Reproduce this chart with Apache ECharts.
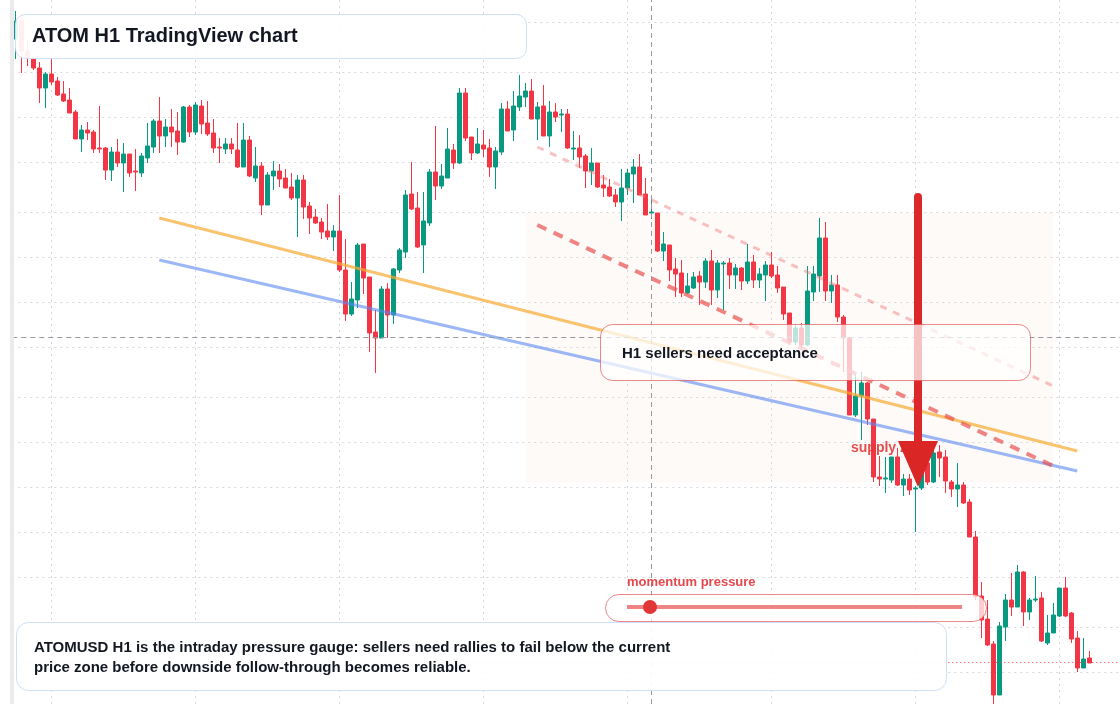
<!DOCTYPE html>
<html><head><meta charset="utf-8">
<script src="https://cdn.jsdelivr.net/npm/echarts@6/dist/echarts.min.js"></script>
<style>html,body{margin:0;padding:0;background:#fff}#c{width:1120px;height:704px}</style>
</head><body><div id="c"></div>
<script>
// ATOMUSD H1 candles
const openP = [4.597,4.635,4.573,4.559,4.539,4.499,4.527,4.513,4.487,4.475,4.451,4.397,4.415,4.411,4.379,4.379,4.335,4.371,4.349,4.367,
4.333,4.329,4.359,4.381,4.433,4.403,4.421,4.413,4.391,4.461,4.411,4.463,4.429,4.409,4.381,4.377,4.387,4.375,4.341,4.395,
4.319,4.343,4.265,4.323,4.333,4.319,4.301,4.279,4.315,4.263,4.241,4.231,4.213,4.201,4.213,4.135,4.047,4.075,4.187,4.121,
4.011,3.999,4.097,4.045,4.135,4.171,4.287,4.259,4.185,4.229,4.331,4.303,4.319,4.375,4.349,4.489,4.401,4.369,4.385,4.379,
4.341,4.371,4.457,4.415,4.461,4.481,4.493,4.437,4.463,4.403,4.451,4.445,4.447,4.377,4.379,4.363,4.333,4.349,4.305,4.301,
4.285,4.271,4.299,4.327,4.341,4.287,4.249,4.249,4.173,4.185,4.137,4.129,4.089,4.099,4.123,4.111,4.153,4.095,4.147,4.149,
4.125,4.139,4.113,4.151,4.115,4.125,4.145,4.125,4.101,4.049,3.991,4.019,3.985,4.091,4.123,4.199,4.093,4.105,4.041,3.999,
3.845,3.883,3.909,3.837,3.721,3.717,3.715,3.761,3.705,3.717,3.697,3.699,3.749,3.711,3.771,3.761,3.711,3.697,3.705,3.671,
3.601,3.483,3.437,3.387,3.285,3.421,3.475,3.461,3.531,3.451,3.475,3.479,3.389,3.409,3.443,3.499,3.449,3.399,3.339,3.359];
const closeP = [4.633,4.573,4.559,4.539,4.499,4.527,4.511,4.485,4.473,4.449,4.397,4.415,4.409,4.377,4.377,4.335,4.371,4.349,4.367,4.329,
4.331,4.363,4.383,4.433,4.403,4.421,4.411,4.391,4.461,4.411,4.465,4.427,4.407,4.379,4.379,4.387,4.377,4.341,4.395,4.323,
4.343,4.265,4.325,4.333,4.317,4.299,4.279,4.315,4.261,4.239,4.229,4.211,4.201,4.213,4.135,4.047,4.077,4.185,4.119,4.009,
3.999,4.097,4.045,4.137,4.175,4.285,4.257,4.181,4.233,4.331,4.303,4.323,4.377,4.349,4.489,4.399,4.369,4.387,4.377,4.341,
4.373,4.457,4.413,4.463,4.483,4.493,4.437,4.461,4.403,4.451,4.441,4.447,4.379,4.379,4.361,4.333,4.349,4.301,4.299,4.283,
4.271,4.299,4.329,4.341,4.285,4.245,4.251,4.173,4.187,4.135,4.127,4.089,4.103,4.121,4.111,4.153,4.095,4.149,4.149,4.125,
4.139,4.113,4.151,4.115,4.127,4.145,4.123,4.099,4.047,3.991,4.019,3.985,4.093,4.127,4.199,4.093,4.105,4.041,3.999,3.845,
3.883,3.909,3.837,3.721,3.717,3.719,3.761,3.705,3.717,3.695,3.699,3.729,3.711,3.769,3.759,3.713,3.697,3.705,3.669,3.601,
3.481,3.435,3.385,3.285,3.423,3.475,3.461,3.531,3.451,3.475,3.477,3.393,3.409,3.445,3.499,3.443,3.397,3.339,3.357,3.349];
const lowP = [4.557,4.529,4.543,4.535,4.469,4.459,4.505,4.483,4.471,4.449,4.397,4.371,4.395,4.369,4.369,4.315,4.313,4.341,4.291,4.321,
4.293,4.321,4.349,4.369,4.369,4.381,4.381,4.365,4.389,4.401,4.405,4.407,4.403,4.369,4.349,4.367,4.367,4.339,4.341,4.321,
4.311,4.245,4.265,4.295,4.301,4.299,4.275,4.201,4.237,4.207,4.227,4.197,4.195,4.173,4.131,4.033,4.043,4.059,4.087,3.971,
3.929,3.999,3.999,4.027,4.129,4.159,4.255,4.179,4.129,4.223,4.275,4.297,4.319,4.337,4.347,4.393,4.355,4.367,4.361,4.321,
4.297,4.365,4.413,4.393,4.453,4.461,4.437,4.395,4.403,4.381,4.431,4.411,4.377,4.355,4.339,4.299,4.305,4.299,4.281,4.281,
4.261,4.233,4.285,4.269,4.285,4.245,4.237,4.171,4.153,4.113,4.081,4.081,4.087,4.097,4.065,4.099,4.065,4.079,4.055,4.097,
4.097,4.095,4.107,4.099,4.099,4.073,4.119,4.089,4.035,3.985,3.985,3.979,3.983,4.073,4.091,4.073,4.069,4.031,3.931,3.845,
3.841,3.795,3.825,3.711,3.703,3.689,3.709,3.703,3.683,3.685,3.611,3.695,3.705,3.709,3.721,3.689,3.681,3.661,3.667,3.601,
3.475,3.399,3.383,3.267,3.285,3.393,3.443,3.461,3.423,3.435,3.471,3.391,3.385,3.409,3.441,3.441,3.389,3.331,3.339,3.349];
const highP = [4.653,4.645,4.597,4.561,4.551,4.531,4.559,4.521,4.513,4.499,4.455,4.425,4.431,4.415,4.463,4.381,4.381,4.397,4.389,4.367,
4.377,4.369,4.429,4.437,4.481,4.437,4.457,4.451,4.463,4.465,4.471,4.475,4.473,4.437,4.399,4.399,4.399,4.429,4.429,4.403,
4.381,4.351,4.331,4.353,4.347,4.337,4.329,4.325,4.325,4.271,4.257,4.239,4.267,4.225,4.285,4.197,4.111,4.189,4.187,4.121,
4.055,4.103,4.109,4.139,4.179,4.295,4.351,4.291,4.291,4.337,4.423,4.347,4.419,4.387,4.499,4.499,4.401,4.419,4.415,4.397,
4.381,4.469,4.473,4.493,4.525,4.509,4.517,4.471,4.505,4.473,4.469,4.457,4.457,4.413,4.405,4.367,4.379,4.349,4.325,4.317,
4.297,4.337,4.337,4.357,4.367,4.319,4.285,4.249,4.211,4.185,4.159,4.155,4.129,4.131,4.133,4.159,4.175,4.155,4.153,4.159,
4.147,4.141,4.187,4.165,4.139,4.153,4.171,4.143,4.101,4.049,4.027,4.029,4.143,4.143,4.239,4.231,4.125,4.125,4.045,4.001,
3.925,3.931,3.911,3.837,3.763,3.761,3.761,3.779,3.727,3.727,3.703,3.735,3.765,3.785,3.785,3.775,3.715,3.749,3.711,3.677,
3.613,3.511,3.475,3.393,3.431,3.487,3.529,3.545,3.533,3.479,3.523,3.491,3.445,3.469,3.499,3.521,3.451,3.413,3.399,3.373];

const emptyBarsRight = 5;            // empty hourly slots after the last candle
const priceMin = 3.267, priceMax = 4.675;
const gridPrices = [4.625,4.5325,4.44,4.3475,4.255,4.1625,4.07,3.9775,3.885,3.7925,3.70,3.6075,3.515,3.4225,3.33];
const dayStartIdx = [6, 30, 54, 78, 102, 126, 150, 174];
const crosshair = { index: 106, price: 3.999 };
const lastClose = 3.349;
const orangeLine = [[24, 4.239], [177, 3.773]];
const blueLine = [[24, 4.155], [177, 3.733]];
const channelLow = [[87, 4.225], [173, 3.743]];
const channelHigh = [[87, 4.381], [173, 3.903]];
const zoneBox = [[85, 4.249], [173, 3.711]];

const titleText = 'ATOM H1 TradingView chart';
const noteText = 'ATOMUSD H1 is the intraday pressure gauge: sellers need rallies to fail below the current\nprice zone before downside follow-through becomes reliable.';
const boxText = 'H1 sellers need acceptance';
const gaugeText = 'momentum pressure';
const zoneText = 'supply zone';

const nCat = openP.length + emptyBarsRight;
const categories = [];
for (let i = 0; i < nCat; i++) categories.push('h' + i);
const ohlc = openP.map((o, i) => [o, closeP[i], lowP[i], highP[i]]);

const FONT = '"Liberation Sans", Arial, sans-serif';
const UP = '#089981', DOWN = '#f23645';
const GRID = { color: '#d5d7db', width: 1, type: [2, 4] };

const seg = (pts, style) => [{ coord: pts[0], lineStyle: style }, { coord: pts[1] }];

const chart = echarts.init(document.getElementById('c'), null, { renderer: 'canvas' });
chart.setOption({
  animation: false,
  backgroundColor: '#ffffff',
  grid: { left: 12.3, top: 0, width: 1110, height: 704, containLabel: false, outerBoundsMode: 'none' },
  xAxis: {
    type: 'category', data: categories, boundaryGap: true,
    axisLine: { show: false }, axisTick: { show: false }, axisLabel: { show: false }, splitLine: { show: false }
  },
  yAxis: {
    type: 'value', min: priceMin, max: priceMax,
    axisLine: { show: false }, axisTick: { show: false }, axisLabel: { show: false }, splitLine: { show: false }
  },
  series: [
    {
      type: 'line', z: 1, data: closeP, symbol: 'none', silent: true,
      lineStyle: { opacity: 0 },
      markLine: {
        z: 0, silent: true, symbol: ['none', 'none'], label: { show: false },
        lineStyle: GRID,
        data: dayStartIdx.map(i => ({ xAxis: i })).concat(gridPrices.map(p => ({ yAxis: p })))
      },
      markArea: {
        z: 0, silent: true, label: { show: false },
        itemStyle: { color: 'rgba(250,215,195,0.12)' },
        data: [[{ coord: zoneBox[0] }, { coord: zoneBox[1] }]]
      }
    },
    {
      type: 'candlestick', z: 2, data: ohlc, barWidth: 5,
      itemStyle: { color: UP, color0: DOWN, borderColor: UP, borderColor0: DOWN, borderWidth: 1 }
    },
    {
      type: 'line', z: 3, data: closeP, symbol: 'none', silent: true,
      lineStyle: { opacity: 0 },
      markLine: {
        z: 3, silent: true, symbol: ['none', 'none'], label: { show: false },
        data: [
          seg(orangeLine, { color: 'rgba(247,170,50,0.7)', width: 3, type: 'solid' }),
          seg(blueLine, { color: 'rgba(90,135,240,0.6)', width: 3, type: 'solid' }),
          seg(channelLow, { color: 'rgba(232,80,80,0.7)', width: 4, type: [10, 8] }),
          seg(channelHigh, { color: 'rgba(240,120,120,0.45)', width: 3, type: [7, 7] }),
          { yAxis: crosshair.price, lineStyle: { color: '#9598a1', width: 1, type: [5, 4] } },
          { xAxis: crosshair.index, lineStyle: { color: '#9598a1', width: 1, type: [5, 4] } },
          { yAxis: lastClose, lineStyle: { color: DOWN, width: 1, type: [1, 3] } }
        ]
      }
    }
  ],
  graphic: [
    { type: 'rect', z: 5, shape: { x: 914, y: 193, width: 8, height: 252, r: 4 }, style: { fill: '#dc2828' } },
    { type: 'text', z: 6, style: { text: zoneText, x: 851, y: 448, font: 'bold 14px ' + FONT, fill: 'rgba(226,58,58,0.9)', verticalAlign: 'middle' } },
    { type: 'polygon', z: 7, shape: { points: [[898, 441], [938, 441], [918, 487]] }, style: { fill: '#db2626' } },
    { type: 'rect', z: 20, shape: { x: 600.5, y: 324.5, width: 430, height: 56, r: 12 },
      style: { fill: 'rgba(255,255,255,0.72)', stroke: 'rgba(226,74,74,0.65)', lineWidth: 1 } },
    { type: 'text', z: 21, style: { text: boxText, x: 622, y: 354, font: 'bold 15px ' + FONT, fill: '#131722', verticalAlign: 'middle' } },
    { type: 'rect', z: 20, shape: { x: 15.5, y: 14.5, width: 511, height: 44, r: 10 },
      style: { fill: 'rgba(255,255,255,0.92)', stroke: '#cfdff5', lineWidth: 1 } },
    { type: 'text', z: 21, style: { text: titleText, x: 32, y: 36.5, font: 'bold 20px ' + FONT, fill: '#131722', verticalAlign: 'middle' } },
    { type: 'rect', z: 20, shape: { x: 16.5, y: 622.5, width: 930, height: 68, r: 12 },
      style: { fill: 'rgba(255,255,255,0.93)', stroke: '#cfdff5', lineWidth: 1 } },
    { type: 'text', z: 21, style: { text: noteText, x: 34, y: 638, font: 'bold 15px ' + FONT, lineHeight: 20, fill: '#131722', verticalAlign: 'top' } },
    { type: 'text', z: 21, style: { text: gaugeText, x: 627, y: 582, font: 'bold 13px ' + FONT, fill: '#e5484d', verticalAlign: 'middle' } },
    { type: 'rect', z: 20, shape: { x: 605.5, y: 594.5, width: 381, height: 27, r: 13.5 },
      style: { fill: 'rgba(255,255,255,0.75)', stroke: 'rgba(226,74,74,0.65)', lineWidth: 1 } },
    { type: 'line', z: 21, shape: { x1: 627, y1: 607, x2: 962, y2: 607 }, style: { stroke: 'rgba(232,80,80,0.7)', lineWidth: 4 } },
    { type: 'circle', z: 22, shape: { cx: 650, cy: 607, r: 7 }, style: { fill: '#e03636' } },
    { type: 'rect', z: 30, shape: { x: 10, y: 0, width: 4, height: 704 }, style: { fill: '#ebebeb' } }
  ]
});
</script>
</body></html>
